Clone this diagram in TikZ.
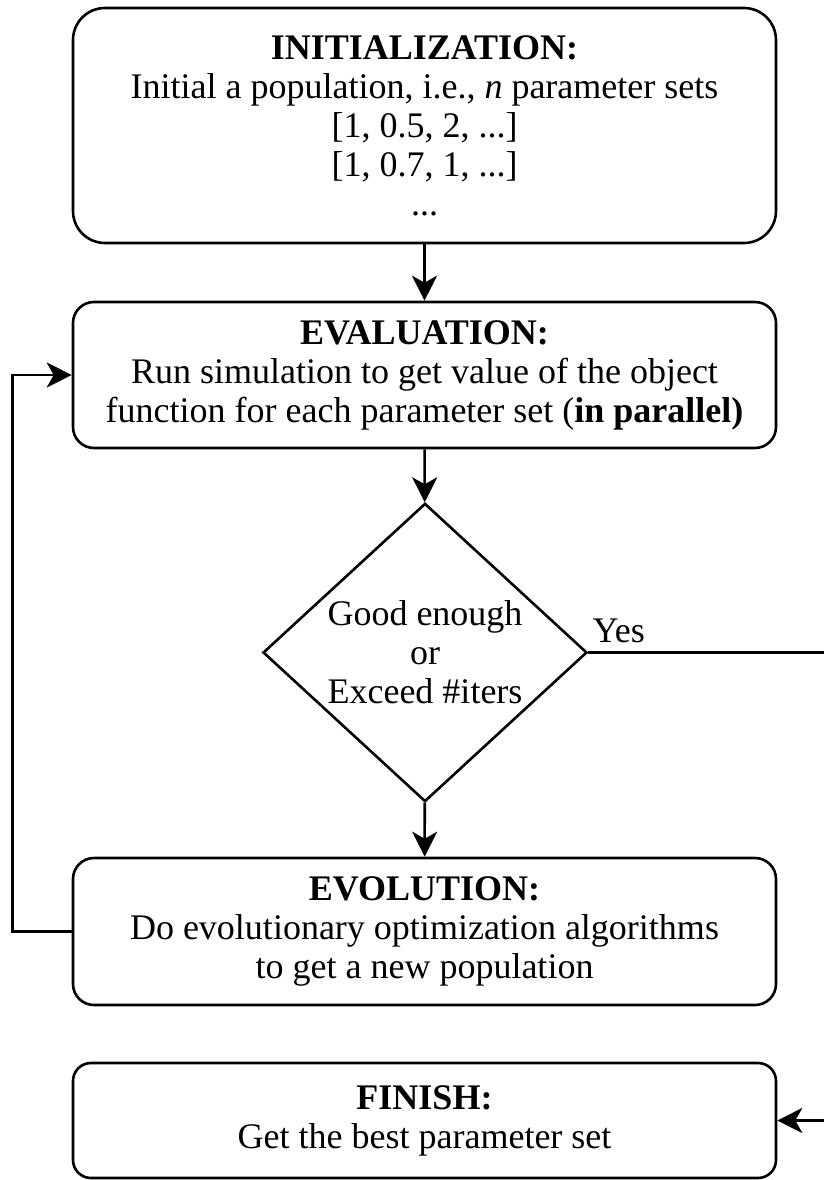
\documentclass[tikz,border=0pt]{standalone}
\usepackage{fontspec}
\setmainfont{Liberation Serif}
\usetikzlibrary{shapes.geometric, arrows.meta}

\begin{document}
\begin{tikzpicture}[
    x=1pt, y=-1pt,
    every node/.style={font=\fontsize{36}{39}\selectfont},
    block/.style={rectangle, draw, line width=2.6pt, align=center, inner sep=0pt, minimum width=703pt},
    decision/.style={diamond, draw, line width=2.6pt, align=center, inner sep=0pt, minimum width=324pt, minimum height=291pt},
    arrow/.style={-{Stealth[length=25pt, width=25pt, inset=7pt]}, line width=2.6pt}
]
\useasboundingbox (0,0) rectangle (824,1180);

% Main steps of the loop
\node[block, minimum height=235pt, rounded corners=32pt] (init) at (424.5, 125.5)
    {\textbf{INITIALIZATION:}\\Initial a population, i.e., \textit{n} parameter sets\\{[}1, 0.5, 2, ...{]}\\{[}1, 0.7, 1, ...{]}\\...};
\node[block, minimum height=146pt, rounded corners=21pt] (eval) at (424.5, 375)
    {\textbf{EVALUATION:}\\Run simulation to get value of the object\\function for each parameter set (\textbf{in parallel)}};
\node[decision] (check) at (425, 652.5) {Good enough\\or\\Exceed \#iters};
\node[block, minimum height=147pt, rounded corners=21pt] (evol) at (424.5, 931.5)
    {\textbf{EVOLUTION:}\\Do evolutionary optimization algorithms\\to get a new population};
\node[block, minimum height=115pt, rounded corners=18pt] (finish) at (424.5, 1120.5)
    {\textbf{FINISH:}\\Get the best parameter set};

% Stop condition
\node[anchor=south west, inner sep=4pt, yshift=5pt] (yes) at (check.east) {Yes};
\coordinate (side) at (860, 900);

% Connections
\draw[arrow] (init) -- (eval);
\draw[arrow] (eval) -- (check);
\draw[arrow] (check) -- (evol);
\draw[arrow] (evol.west) -- ++(-59,0) |- (eval.west);
\draw[arrow] (check.east) -| (side) |- (finish.east);

\end{tikzpicture}
\end{document}
